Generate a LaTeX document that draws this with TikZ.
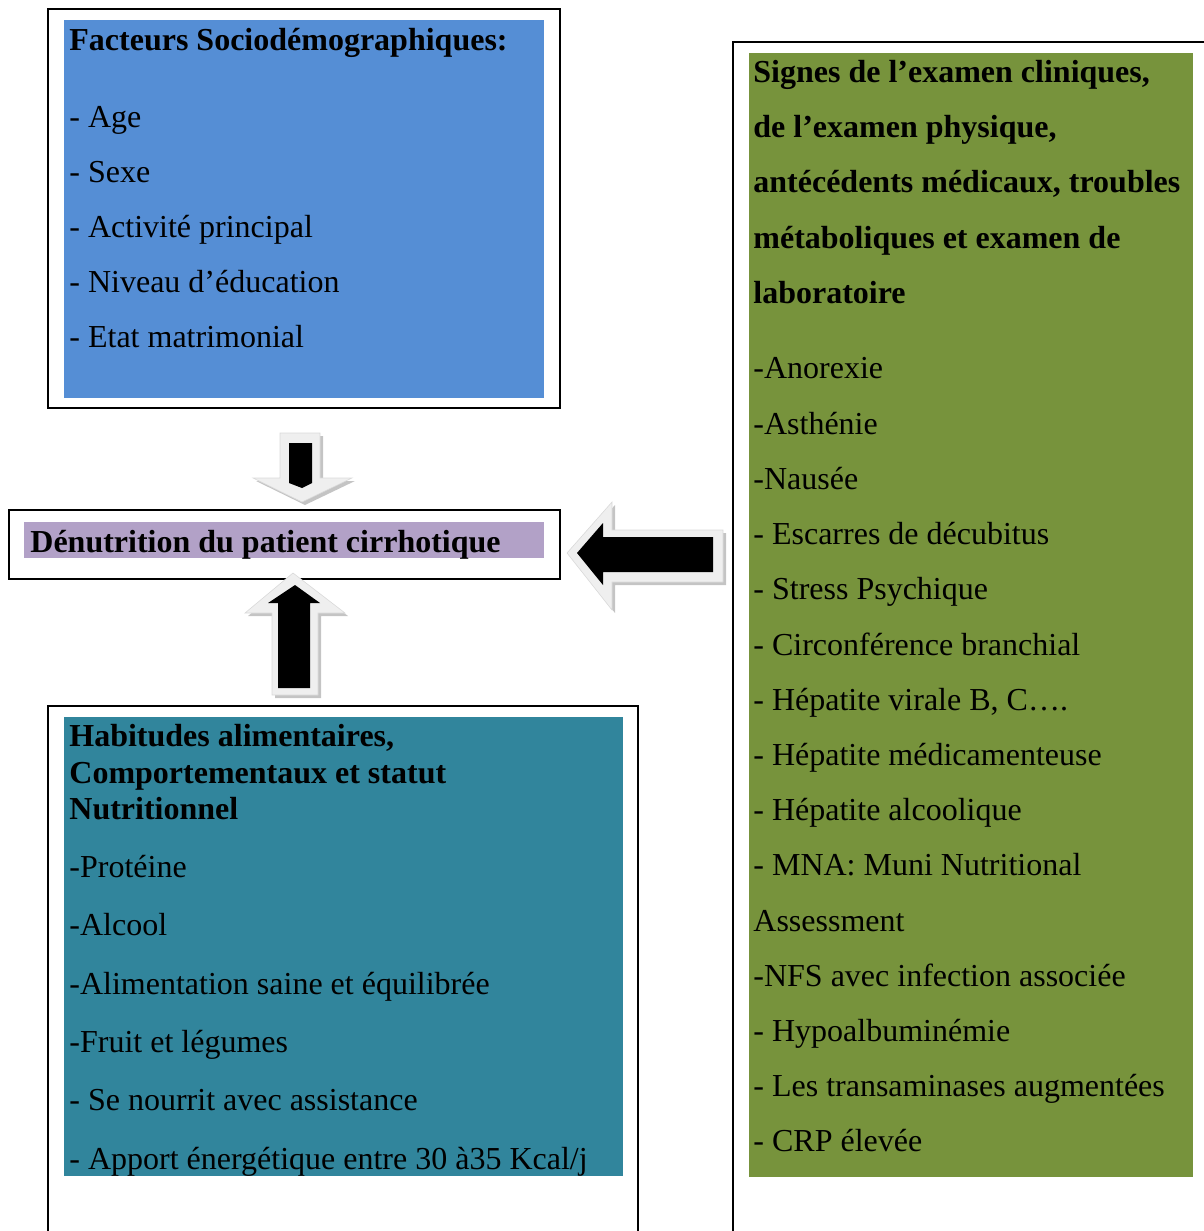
\documentclass[tikz,border=0pt]{standalone}
\usepackage{fontspec}
\setmainfont{Liberation Serif}
\definecolor{cblue}{HTML}{558ED5}
\definecolor{cgreen}{HTML}{77933C}
\definecolor{cteal}{HTML}{31859C}
\definecolor{cpurple}{HTML}{B2A1C7}
\definecolor{cedge}{HTML}{EFEFEF}
\definecolor{cshadow}{HTML}{C4C4C4}
\begin{document}
\begin{tikzpicture}[x=0.5pt,y=-0.5pt,
  txt/.style={anchor=base west,inner sep=0pt,font=\fontsize{16}{19}\selectfont},
  ttl/.style={anchor=base west,inner sep=0pt,font=\fontsize{16}{19}\selectfont\bfseries},
  frame/.style={draw=black,line width=1pt},
  arrowout/.style={fill=cedge,draw=cedge!80!gray,line width=0.3pt},
  arrowshadow/.style={fill=cshadow},
  arrowin/.style={fill=black}]
\useasboundingbox (0,0) rectangle (1204,1231);
% frames
\draw[frame] (48,9) rectangle (560,408);
\draw[frame] (9,510) rectangle (560,579);
\draw[frame] (48,1240) -- (48,706) -- (638,706) -- (638,1240);
\draw[frame] (733,1240) -- (733,42) -- (1210,42);
% fills
\fill[cblue] (64,20) rectangle (544,398);
\fill[cpurple] (24,522) rectangle (544,558);
\fill[cteal] (64,717) rectangle (623,1176);
\fill[cgreen] (749,53) rectangle (1193,1177);
% top-left text
\node[ttl] (t1) at (69,50) {Facteurs Sociodémographiques:};
\node[txt] (a1) at (69,127) {- Age};
\node[txt] (a2) at (69,182) {- Sexe};
\node[txt] (a3) at (69,237) {- Activité principal};
\node[txt] (a4) at (69,292) {- Niveau d’éducation};
\node[txt] (a5) at (69,347) {- Etat matrimonial};
% center
\node[ttl] (c) at (30,552) {Dénutrition du patient cirrhotique};
% bottom-left
\node[ttl] (h1) at (69,746) {Habitudes alimentaires,};
\node[ttl] (h2) at (69,783) {Comportementaux et statut};
\node[ttl] (h3) at (69,819) {Nutritionnel};
\node[txt] (b1) at (69,877) {-Protéine};
\node[txt] (b2) at (69,935) {-Alcool};
\node[txt] (b3) at (69,994) {-Alimentation saine et équilibrée};
\node[txt] (b4) at (69,1052) {-Fruit et légumes};
\node[txt] (b5) at (69,1110) {- Se nourrit avec assistance};
\node[txt] (b6) at (69,1169) {- Apport énergétique entre 30 à35 Kcal/j};
% right
\node[ttl] (s1) at (753,82) {Signes de l’examen cliniques,};
\node[ttl] (s2) at (753,137) {de l’examen physique,};
\node[ttl] (s3) at (753,192) {antécédents médicaux, troubles};
\node[ttl] (s4) at (753,248) {métaboliques et examen de};
\node[ttl] (s5) at (753,303) {laboratoire};
\node[txt] (r1) at (753,378) {-Anorexie};
\node[txt] (r2) at (753,434) {-Asthénie};
\node[txt] (r3) at (753,489) {-Nausée};
\node[txt] (r4) at (753,544) {- Escarres de décubitus};
\node[txt] (r5) at (753,599) {- Stress Psychique};
\node[txt] (r6) at (753,655) {- Circonférence branchial};
\node[txt] (r7) at (753,710) {- Hépatite virale B, C….};
\node[txt] (r8) at (753,765) {- Hépatite médicamenteuse};
\node[txt] (r9) at (753,820) {- Hépatite alcoolique};
\node[txt] (r10) at (753,875) {- MNA: Muni Nutritional};
\node[txt] (r11) at (753,931) {Assessment};
\node[txt] (r12) at (753,986) {-NFS avec infection associée};
\node[txt] (r13) at (753,1041) {- Hypoalbuminémie};
\node[txt] (r14) at (753,1096) {- Les transaminases augmentées};
\node[txt] (r15) at (753,1151) {- CRP élevée};
% down arrow
\fill[arrowshadow,shift={(3,3)}] (280,433)--(320,433)--(320,478)--(352,478)--(302,502)--(253,478)--(280,478)--cycle;
\path[arrowout] (280,433)--(320,433)--(320,478)--(352,478)--(302,502)--(253,478)--(280,478)--cycle;
\fill[arrowin] (289,443)--(312,443)--(312,483)--(302,488)--(289,483)--cycle;
% left arrow
\fill[arrowshadow,shift={(3,3)}] (567,553)--(612,502)--(612,530)--(723,530)--(723,582)--(612,582)--(612,610)--cycle;
\path[arrowout] (567,553)--(612,502)--(612,530)--(723,530)--(723,582)--(612,582)--(612,610)--cycle;
\fill[arrowin] (577,553)--(603,523)--(603,537)--(713,537)--(713,572)--(603,572)--(603,585)--cycle;
% up arrow
\fill[arrowshadow,shift={(3,3)}] (293,573)--(345,613)--(318,613)--(318,695)--(272,695)--(272,613)--(245,613)--cycle;
\path[arrowout] (293,573)--(345,613)--(318,613)--(318,695)--(272,695)--(272,613)--(245,613)--cycle;
\fill[arrowin] (295,585)--(320,603)--(310,603)--(310,688)--(278,688)--(278,603)--(268,603)--cycle;
\end{tikzpicture}
\end{document}
